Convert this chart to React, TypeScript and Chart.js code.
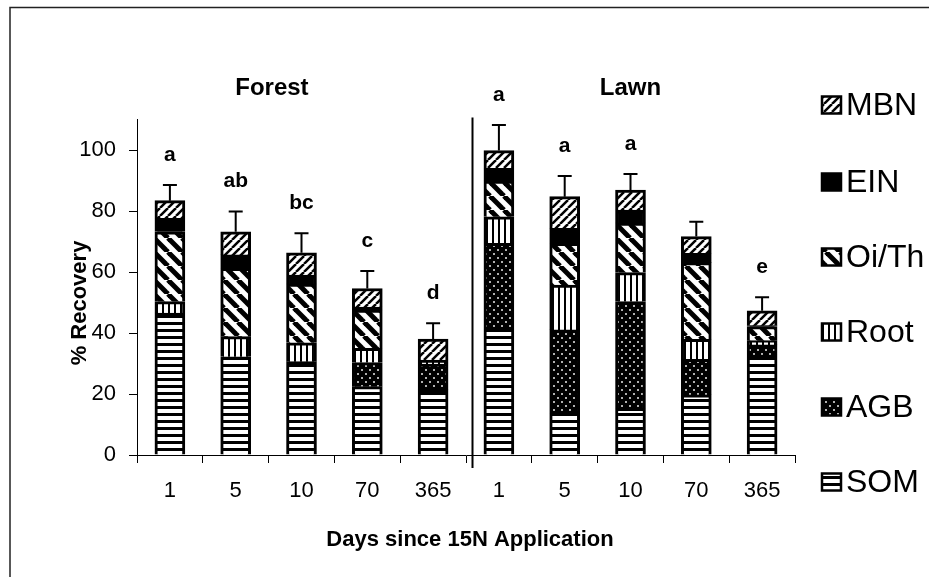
import React, { useEffect, useRef } from 'react';
import { Chart, registerables } from 'chart.js';

Chart.register(...registerables);

const FONT = "'Liberation Sans', Arial, sans-serif";

// Categories (days since 15N application): Forest then Lawn
const categories = ['1', '5', '10', '70', '365', '1', '5', '10', '70', '365'];
const groupTitles = ['Forest', 'Lawn'];

// % recovery per pool (stack order bottom -> top)
const somValues = [46.5, 32.2, 30.6, 22.4, 21.5, 41.2, 13.7, 15.3, 19.7, 32.8];
const agbValues = [0, 0, 0, 7.9, 8.3, 28.2, 27.3, 35.0, 11.7, 3.3];
const rootValues = [3.8, 6.6, 6.2, 4.7, 0.6, 8.7, 14.7, 9.5, 6.5, 1.4];
const oiThValues = [22.9, 22.4, 19.2, 12.5, 0, 11.7, 13.7, 16.2, 25.2, 4.6];
const einValues = [4.4, 4.4, 3.0, 1.0, 0.7, 4.2, 4.9, 4.3, 3.0, 0.3];
const mbnValues = [5.8, 7.6, 7.3, 6.1, 6.9, 5.8, 10.4, 6.6, 5.5, 4.9];

// Upper error (on total recovery)
const errorValues = [5.1, 6.6, 6.4, 5.7, 5.2, 8.4, 6.8, 5.2, 4.9, 4.4];
// Significance letters
const letters = ['a', 'ab', 'bc', 'c', 'd', 'a', 'a', 'a', '', 'e'];

const seriesNames = ['SOM', 'AGB', 'Root', 'Oi/Th', 'EIN', 'MBN'];
const seriesValues = [somValues, agbValues, rootValues, oiThValues, einValues, mbnValues];

const yTickMax = 100;
const yAxisMax = 110;
const yStep = 20;

function makePattern(kind: string): CanvasPattern | string {
  const c = document.createElement('canvas');
  const g = c.getContext('2d') as CanvasRenderingContext2D;
  if (kind === 'EIN') return '#000000';
  if (kind === 'SOM') {
    c.width = 8; c.height = 7;
    g.fillStyle = '#fff'; g.fillRect(0, 0, 8, 7);
    g.fillStyle = '#000'; g.fillRect(0, 0, 8, 3);
  } else if (kind === 'AGB') {
    c.width = 8; c.height = 8;
    g.fillStyle = '#000'; g.fillRect(0, 0, 8, 8);
    g.fillStyle = '#b0b0b0';
    g.fillRect(1, 1, 2, 2);
    g.fillRect(5, 5, 2, 2);
  } else if (kind === 'Root') {
    c.width = 6; c.height = 6;
    g.fillStyle = '#fff'; g.fillRect(0, 0, 6, 6);
    g.fillStyle = '#000'; g.fillRect(0, 0, 2, 6);
  } else if (kind === 'Oi/Th') {
    c.width = 14; c.height = 14;
    g.fillStyle = '#fff'; g.fillRect(0, 0, 14, 14);
    g.strokeStyle = '#000'; g.lineWidth = 5;
    for (const o of [-14, 0, 14]) {
      g.beginPath(); g.moveTo(o, 0); g.lineTo(o + 14, 14); g.stroke();
    }
  } else if (kind === 'MBN') {
    c.width = 8; c.height = 8;
    g.fillStyle = '#fff'; g.fillRect(0, 0, 8, 8);
    g.strokeStyle = '#000'; g.lineWidth = 2.5;
    for (const o of [-8, 0, 8]) {
      g.beginPath(); g.moveTo(o, 8); g.lineTo(o + 8, 0); g.stroke();
    }
  }
  return g.createPattern(c, 'repeat') as CanvasPattern;
}

export default function App() {
  const ref = useRef<HTMLCanvasElement | null>(null);

  useEffect(() => {
    if (!ref.current) return;
    const fills = seriesNames.map((n) => makePattern(n));

    const decor = {
      id: 'decor',
      beforeDraw(chart: any) {
        const ctx = chart.ctx as CanvasRenderingContext2D;
        ctx.save();
        ctx.fillStyle = '#fff';
        ctx.fillRect(0, 0, chart.width, chart.height);
        ctx.strokeStyle = '#222';
        ctx.lineWidth = 1.5;
        ctx.beginPath();
        ctx.moveTo(10, chart.height + 2);
        ctx.lineTo(10, 7.5);
        ctx.lineTo(chart.width + 2, 7.5);
        ctx.stroke();
        ctx.restore();
      },
      afterDraw(chart: any) {
        const ctx = chart.ctx as CanvasRenderingContext2D;
        const xs = chart.scales.x;
        const ys = chart.scales.y;
        const area = chart.chartArea;
        ctx.save();

        // separator between Forest and Lawn
        const sepX = Math.round(xs.getPixelForValue(4.5) + 6) + 0.5;
        ctx.strokeStyle = '#000';
        ctx.lineWidth = 2;
        ctx.beginPath();
        ctx.moveTo(sepX, area.top - 2);
        ctx.lineTo(sepX, area.bottom + 13);
        ctx.stroke();

        // error bars + letters
        for (let i = 0; i < categories.length; i++) {
          let total = 0;
          for (const s of seriesValues) total += s[i];
          const x = xs.getPixelForValue(i);
          const yTop = ys.getPixelForValue(total);
          const yErr = ys.getPixelForValue(total + errorValues[i]);
          ctx.strokeStyle = '#000';
          ctx.lineWidth = 2;
          ctx.beginPath();
          ctx.moveTo(x, yTop);
          ctx.lineTo(x, yErr);
          ctx.moveTo(x - 7, yErr);
          ctx.lineTo(x + 7, yErr);
          ctx.stroke();
          if (letters[i]) {
            ctx.fillStyle = '#000';
            ctx.font = `bold 21px ${FONT}`;
            ctx.textAlign = 'center';
            ctx.textBaseline = 'middle';
            ctx.fillText(letters[i], x, yErr - 30);
          }
        }

        // group titles
        ctx.fillStyle = '#000';
        ctx.font = `bold 24px ${FONT}`;
        ctx.textAlign = 'center';
        ctx.textBaseline = 'middle';
        ctx.fillText(groupTitles[0], xs.getPixelForValue(1.55), 88);
        ctx.fillText(groupTitles[1], xs.getPixelForValue(7), 88);

        // axis titles
        ctx.font = `bold 22px ${FONT}`;
        ctx.fillText('Days since 15N Application', 470, 540);
        ctx.save();
        ctx.translate(80, 303);
        ctx.rotate(-Math.PI / 2);
        ctx.fillText('% Recovery', 0, 0);
        ctx.restore();

        // legend (top = MBN)
        const legendY = [105, 182, 257, 332, 407, 482];
        const order = [5, 4, 3, 2, 1, 0];
        ctx.font = `32px ${FONT}`;
        ctx.textAlign = 'left';
        order.forEach((si, k) => {
          const cy = legendY[k];
          ctx.fillStyle = fills[si] as any;
          ctx.fillRect(822, cy - 8.5, 19, 17);
          ctx.strokeStyle = '#000';
          ctx.lineWidth = 2.5;
          ctx.strokeRect(822, cy - 8.5, 19, 17);
          ctx.fillStyle = '#000';
          ctx.fillText(seriesNames[si], 846, cy + 1);
        });

        ctx.restore();
      },
    };

    const chart = new Chart(ref.current, {
      type: 'bar',
      data: {
        labels: categories,
        datasets: seriesNames.map((name, si) => ({
          label: name,
          data: seriesValues[si],
          backgroundColor: fills[si] as any,
          borderColor: '#000',
          borderWidth: 3,
          borderSkipped: 'start',
          barThickness: 30,
        })),
      },
      options: {
        responsive: false,
        devicePixelRatio: 1,
        animation: false,
        layout: { padding: { left: 0, right: 134, top: 119.5, bottom: 0 } },
        plugins: {
          legend: { display: false },
          tooltip: { enabled: false },
          title: { display: false },
        },
        scales: {
          x: {
            stacked: true,
            grid: {
              display: true,
              drawOnChartArea: false,
              drawTicks: true,
              tickLength: 8,
              color: '#000',
              offset: true,
            },
            border: { display: true, color: '#000', width: 1 },
            ticks: {
              color: '#000',
              font: { size: 22, family: FONT },
              padding: 15,
              maxRotation: 0,
              autoSkip: false,
            },
            afterFit: (s: any) => { s.height = 122; },
          },
          y: {
            stacked: true,
            min: 0,
            max: yAxisMax,
            grid: {
              display: true,
              drawOnChartArea: false,
              drawTicks: true,
              tickLength: 8,
              color: '#000',
            },
            border: { display: true, color: '#000', width: 1 },
            ticks: {
              stepSize: yStep,
              color: '#000',
              font: { size: 22, family: FONT },
              padding: 13,
            },
            afterBuildTicks: (s: any) => {
              s.ticks = s.ticks.filter((t: any) => t.value <= yTickMax);
            },
            afterFit: (s: any) => { s.width = 137; },
          },
        },
      },
      plugins: [decor],
    });
    return () => chart.destroy();
  }, []);

  return (
    <div style={{ position: 'absolute', left: 0, top: 0, width: 929, height: 577, background: '#fff' }}>
      <canvas ref={ref} width={929} height={577} style={{ width: 929, height: 577 }} />
    </div>
  );
}
